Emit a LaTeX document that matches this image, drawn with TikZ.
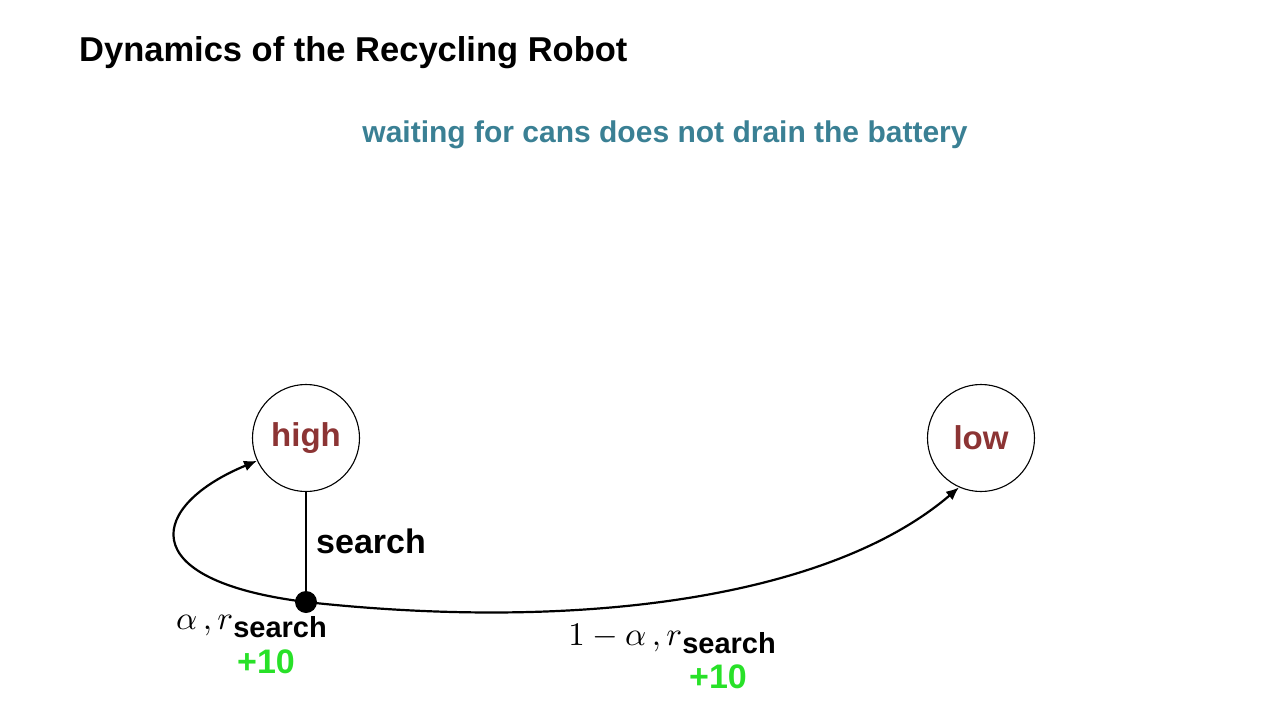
\documentclass[tikz,border=0pt]{standalone}
\usepackage{fontspec}
\setmainfont{Liberation Sans}
\usetikzlibrary{arrows.meta}
% scalable math fonts for the large formulas
\DeclareFontShape{OML}{cmm}{m}{it}{<->cmmi10}{}
\DeclareFontShape{OMS}{cmsy}{m}{n}{<->cmsy10}{}
\DeclareFontShape{OT1}{cmr}{m}{n}{<->cmr10}{}
\definecolor{titleteal}{RGB}{58,128,148}
\definecolor{statered}{RGB}{140,52,52}
\definecolor{rewardgreen}{RGB}{40,225,40}
\tikzset{
  state/.style={circle,draw,line width=1.1pt,minimum size=107pt,inner sep=0pt,
    font=\fontsize{33}{38}\selectfont\bfseries,text=statered},
  edge/.style={line width=2.2pt,-{Latex[length=13pt,width=11pt]}},
  lbl/.style={font=\fontsize{34}{40}\selectfont\bfseries,inner sep=0pt},
  reward/.style={font=\fontsize{34}{40}\selectfont\bfseries,text=rewardgreen,inner sep=0pt},
}
\newcommand{\rsearch}{$r$\raisebox{-8pt}{\fontsize{29}{34}\selectfont\bfseries search}}
\begin{document}
\begin{tikzpicture}[x=1pt,y=-1pt]
\useasboundingbox (0,0) rectangle (1280,720);
\node[anchor=west,inner sep=0pt,font=\fontsize{34.5}{40}\selectfont\bfseries] (title) at (79,53) {Dynamics of the Recycling Robot};
\node[font=\fontsize{30}{36}\selectfont\bfseries,text=titleteal] (note) at (665,135) {waiting for cans does not drain the battery};
\node[state] (high) at (306,438) {high};
\node[state] (low) at (981,438) {low};
\node[circle,fill,minimum size=22pt,inner sep=0pt] (act) at (306,602) {};
\draw[line width=2pt] (high) -- (act);
\node[lbl,anchor=west] (srch) at (316,541) {search};
\draw[edge] (act.center) .. controls (130,580) and (150,505) .. (high.205);
\draw[edge] (act.center) .. controls (580,632) and (830,598) .. (low.246);
\node[anchor=east,inner sep=0pt] (pa) at (327,627) {\fontsize{33}{38}\selectfont$\alpha\,,\,$\rsearch};
\node[reward] (ra) at (266,662) {+10};
\node[anchor=east,inner sep=0pt] (pb) at (776,639) {\fontsize{33}{38}\selectfont$1-\alpha\,,\,$\rsearch};
\node[reward] (rb) at (718,677) {+10};
\end{tikzpicture}
\end{document}
